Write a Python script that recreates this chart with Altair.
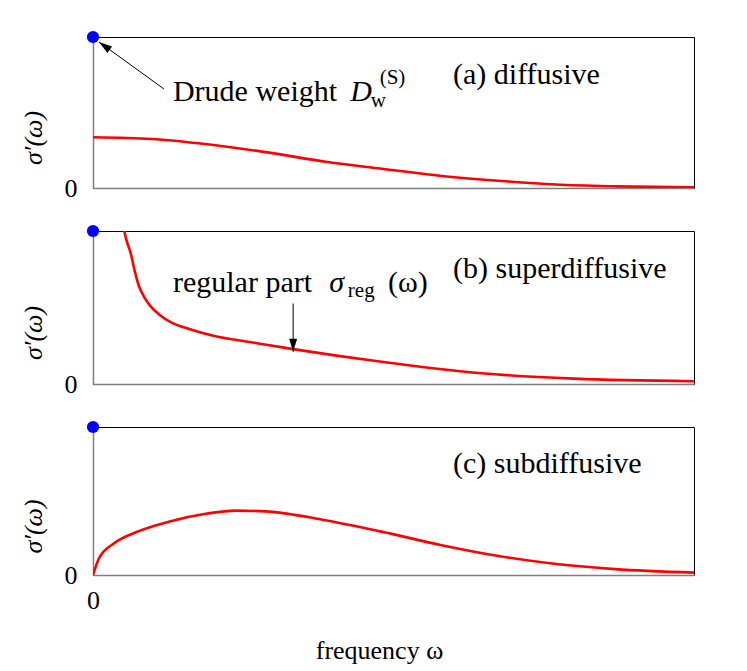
import altair as alt
import pandas as pd

# ---------------- data (axes normalised to [0, 1]) ----------------
omega_a = [0.0, 0.097, 0.19, 0.29, 0.39, 0.48, 0.58, 0.68, 0.77, 0.87, 1.0]
sigma_a = [0.336, 0.325, 0.29, 0.236, 0.172, 0.128, 0.08, 0.046, 0.023, 0.011, 0.004]

omega_b = [0.052, 0.055, 0.063, 0.07, 0.077, 0.085, 0.097, 0.11, 0.13, 0.16, 0.2, 0.26, 0.333, 0.48, 0.646, 0.8, 1.0]
sigma_b = [1.0, 0.95, 0.85, 0.73, 0.634, 0.57, 0.502, 0.455, 0.403, 0.36, 0.316, 0.275, 0.228, 0.145, 0.07, 0.035, 0.018]

omega_c = [0.0, 0.01, 0.035, 0.074, 0.126, 0.19, 0.236, 0.287, 0.384, 0.48, 0.578, 0.675, 0.771, 0.868, 1.0]
sigma_c = [0.0, 0.113, 0.214, 0.293, 0.36, 0.415, 0.435, 0.43, 0.372, 0.293, 0.203, 0.128, 0.074, 0.04, 0.016]

drude_omega = [0.0]
drude_weight = [1.0]

panel_labels = ["(a) diffusive", "(b) superdiffusive", "(c) subdiffusive"]
panel_label_x = [0.599, 0.599, 0.599]
panel_label_y = [0.689, 0.691, 0.689]

# annotation (a): Drude weight D_w^(S)
drude_text = ["Drude weight", "D", "w", "(S)"]
drude_text_x = [0.133, 0.428, 0.462, 0.477]
drude_text_y = [0.576, 0.576, 0.536, 0.69]
drude_arrow_from = (0.118, 0.656)
drude_arrow_to = (0.010, 0.967)

# annotation (b): regular part sigma_reg(omega)
reg_text = ["regular part", "σ", "reg", "(ω)"]
reg_text_x = [0.133, 0.393, 0.424, 0.491]
reg_text_y = [0.599, 0.599, 0.566, 0.599]
reg_arrow_from = (0.333, 0.526)
reg_arrow_to = (0.333, 0.21)

heights = [151, 153, 148]
W = 601
FONT = "Liberation Serif"
FS = 30
FS_SMALL = 21
GRAY = "#7f7f7f"

XS = alt.Scale(domain=[0, 1], nice=False, zero=False)
YS = alt.Scale(domain=[0, 1], nice=False, zero=False)

ARROW_SHAPE = "M0,0L-0.3,1L0.3,1Z"


def make_axes(bottom, height):
    if bottom:
        xaxis = alt.Axis(values=[0], ticks=False, grid=False, labelPadding=12,
                         labelFontSize=26, labelFont=FONT, labelColor="black",
                         labelFlush=False,
                         title="frequency ω", titleFont=FONT, titleFontSize=26,
                         titleFontWeight="normal", titleColor="black", titlePadding=24,
                         titleX=286, domainColor=GRAY, domainWidth=1.5)
    else:
        xaxis = alt.Axis(labels=False, ticks=False, grid=False, title=None,
                         domainColor=GRAY, domainWidth=1.5)
    yaxis = alt.Axis(values=[0], ticks=False, grid=False, labelPadding=16,
                     labelFontSize=26, labelFont=FONT, labelColor="black",
                     labelFlush=False,
                     title="σ′(ω)", titleFont=FONT, titleFontSize=26, titleFontStyle="italic",
                     titleFontWeight="normal", titleColor="black", titlePadding=18,
                     titleY=height / 2 + 25,
                     domainColor=GRAY, domainWidth=1.5)
    return xaxis, yaxis


def text_layer(axes, txt, x, y, size=FS, italic=False):
    df = pd.DataFrame({"x": [x], "y": [y], "t": [txt]})
    return alt.Chart(df).mark_text(
        font=FONT, fontSize=size, align="left", baseline="alphabetic",
        fontStyle="italic" if italic else "normal", color="black",
    ).encode(
        x=alt.X("x:Q", scale=XS, axis=axes[0]),
        y=alt.Y("y:Q", scale=YS, axis=axes[1]),
        text="t:N",
    )


def arrow_layers(axes, p_from, p_to, angle):
    df = pd.DataFrame({"x": [p_from[0]], "y": [p_from[1]], "x2": [p_to[0]], "y2": [p_to[1]]})
    rule = alt.Chart(df).mark_rule(color="black", strokeWidth=1).encode(
        x=alt.X("x:Q", scale=XS, axis=axes[0]), y=alt.Y("y:Q", scale=YS, axis=axes[1]),
        x2="x2:Q", y2="y2:Q",
    )
    head_df = pd.DataFrame({"x": [p_to[0]], "y": [p_to[1]]})
    head = alt.Chart(head_df).mark_point(
        shape=ARROW_SHAPE, filled=True, color="black", opacity=1, size=700, angle=angle,
        strokeWidth=0,
    ).encode(
        x=alt.X("x:Q", scale=XS, axis=axes[0]), y=alt.Y("y:Q", scale=YS, axis=axes[1]),
    )
    return [rule, head]


def panel(omega, sigma, height, label, lx, ly, axes, extra=None):
    df = pd.DataFrame({"x": omega, "y": sigma})
    line = alt.Chart(df).mark_line(color="#ff0000", strokeWidth=2.6, interpolate="monotone",
                                    clip=True).encode(
        x=alt.X("x:Q", scale=XS, axis=axes[0]),
        y=alt.Y("y:Q", scale=YS, axis=axes[1]),
    )
    dot_df = pd.DataFrame({"x": drude_omega, "y": drude_weight})
    dot = alt.Chart(dot_df).mark_circle(color="#0000ff", size=150, opacity=1, clip=False).encode(
        x=alt.X("x:Q", scale=XS, axis=axes[0]),
        y=alt.Y("y:Q", scale=YS, axis=axes[1]),
    )
    layers = [line, dot, text_layer(axes, label, lx, ly)]
    if extra:
        layers += extra
    return alt.layer(*layers).properties(width=W, height=height)


ax_a = make_axes(False, heights[0])
ax_b = make_axes(False, heights[1])
ax_c = make_axes(True, heights[2])

extra_a = [
    text_layer(ax_a, drude_text[0], drude_text_x[0], drude_text_y[0]),
    text_layer(ax_a, drude_text[1], drude_text_x[1], drude_text_y[1], italic=True),
    text_layer(ax_a, drude_text[2], drude_text_x[2], drude_text_y[2], size=FS_SMALL),
    text_layer(ax_a, drude_text[3], drude_text_x[3], drude_text_y[3], size=FS_SMALL),
] + arrow_layers(ax_a, drude_arrow_from, drude_arrow_to, 306)

extra_b = [
    text_layer(ax_b, reg_text[0], reg_text_x[0], reg_text_y[0]),
    text_layer(ax_b, reg_text[1], reg_text_x[1], reg_text_y[1], italic=True),
    text_layer(ax_b, reg_text[2], reg_text_x[2], reg_text_y[2], size=FS_SMALL),
    text_layer(ax_b, reg_text[3], reg_text_x[3], reg_text_y[3]),
] + arrow_layers(ax_b, reg_arrow_from, reg_arrow_to, 180)

pa = panel(omega_a, sigma_a, heights[0], panel_labels[0], panel_label_x[0], panel_label_y[0], ax_a, extra=extra_a)
pb = panel(omega_b, sigma_b, heights[1], panel_labels[1], panel_label_x[1], panel_label_y[1], ax_b, extra=extra_b)
pc = panel(omega_c, sigma_c, heights[2], panel_labels[2], panel_label_x[2], panel_label_y[2], ax_c)

chart = alt.vconcat(pa, pb, pc, spacing=22).properties(
    padding={"left": 11, "top": 22, "right": 5, "bottom": 5},
    background="white",
).configure_view(stroke="black", strokeWidth=1)

chart.save("out.html", embed_options={"renderer": "svg", "actions": False})
